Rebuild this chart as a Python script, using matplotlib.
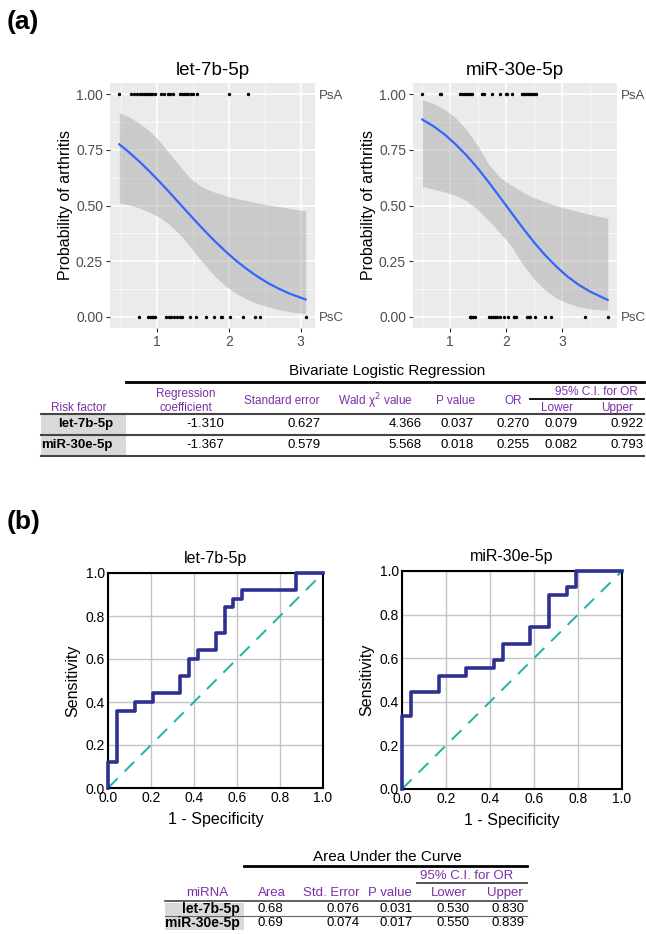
import matplotlib.pyplot as plt
from matplotlib.ticker import MultipleLocator
import numpy as np

plt.rcParams['font.family'] = ['Liberation Sans', 'DejaVu Sans']

# ---- (a) logistic regression panels ----
let7b_psa_x = [0.48, 0.64, 0.68, 0.72, 0.77, 0.80, 0.82, 0.85, 0.88, 0.91, 0.94, 0.98,
               1.06, 1.10, 1.15, 1.19, 1.22, 1.33, 1.35, 1.38, 1.41, 1.44, 1.47, 1.50,
               1.56, 2.00, 2.27]
let7b_psc_x = [0.76, 0.88, 0.91, 0.93, 0.95, 0.98, 1.13, 1.17, 1.20, 1.24, 1.28, 1.32,
               1.35, 1.46, 1.55, 1.69, 1.80, 1.89, 1.91, 2.02, 2.20, 2.36, 2.43, 3.07]
let7b_fit_x = [0.48, 0.60, 0.75, 0.90, 1.05, 1.20, 1.35, 1.50, 1.65, 1.80, 1.95, 2.10,
               2.25, 2.40, 2.55, 2.70, 2.85, 3.07]
let7b_fit_y = [0.775, 0.743, 0.700, 0.653, 0.603, 0.551, 0.497, 0.444, 0.392, 0.342,
               0.296, 0.253, 0.215, 0.181, 0.151, 0.126, 0.104, 0.078]
let7b_lo = [0.510, 0.503, 0.490, 0.470, 0.445, 0.408, 0.360, 0.300, 0.240, 0.185,
            0.140, 0.105, 0.080, 0.060, 0.045, 0.033, 0.023, 0.013]
let7b_hi = [0.916, 0.900, 0.872, 0.835, 0.785, 0.725, 0.665, 0.612, 0.580, 0.560,
            0.545, 0.532, 0.522, 0.512, 0.503, 0.495, 0.487, 0.476]

mir30e_psa_x = [0.50, 0.81, 0.84, 1.18, 1.21, 1.25, 1.29, 1.32, 1.36, 1.39, 1.57, 1.61,
                1.75, 1.90, 1.99, 2.02, 2.10, 2.29, 2.33, 2.36, 2.40, 2.43, 2.47, 2.50,
                2.53]
mir30e_psc_x = [1.35, 1.37, 1.38, 1.41, 1.44, 1.70, 1.73, 1.76, 1.80, 1.84, 1.90, 1.97,
                2.04, 2.14, 2.15, 2.17, 2.38, 2.41, 2.43, 2.51, 2.70, 2.80, 3.42, 3.82]
mir30e_fit_x = [0.50, 0.70, 0.90, 1.10, 1.30, 1.50, 1.70, 1.90, 2.10, 2.30, 2.50, 2.70,
                2.90, 3.10, 3.30, 3.50, 3.82]
mir30e_fit_y = [0.886, 0.856, 0.819, 0.774, 0.723, 0.665, 0.601, 0.534, 0.466, 0.399,
                0.335, 0.277, 0.226, 0.181, 0.144, 0.114, 0.076]
mir30e_lo = [0.585, 0.573, 0.561, 0.545, 0.520, 0.480, 0.430, 0.375, 0.315, 0.235,
             0.170, 0.120, 0.085, 0.062, 0.045, 0.036, 0.030]
mir30e_hi = [0.976, 0.958, 0.932, 0.893, 0.838, 0.765, 0.680, 0.625, 0.590, 0.560,
             0.535, 0.516, 0.500, 0.485, 0.472, 0.460, 0.443]

# ---- (b) ROC curves ----
let7b_fpr = [0, 0.042, 0.125, 0.208, 0.333, 0.375, 0.417, 0.5, 0.542, 0.583, 0.625, 0.875, 1.0]
let7b_tpr = [0, 0.12, 0.36, 0.40, 0.44, 0.52, 0.60, 0.64, 0.72, 0.84, 0.88, 0.92, 1.0]
mir30e_fpr = [0, 0.042, 0.167, 0.292, 0.417, 0.458, 0.583, 0.667, 0.75, 0.792, 1.0]
mir30e_tpr = [0, 0.333, 0.444, 0.519, 0.556, 0.593, 0.667, 0.741, 0.889, 0.926, 1.0]

# ---- tables ----
mirnas = ['let-7b-5p', 'miR-30e-5p']
logit_cols = ['Regression\ncoefficient', 'Standard error', 'Wald χ$^2$ value', 'P value', 'OR',
              'Lower', 'Upper']
logit_rows = [['-1.310', '0.627', '4.366', '0.037', '0.270', '0.079', '0.922'],
              ['-1.367', '0.579', '5.568', '0.018', '0.255', '0.082', '0.793']]
auc_cols = ['Area', 'Std. Error', 'P value', 'Lower', 'Upper']
auc_rows = [['0.68', '0.076', '0.031', '0.530', '0.830'],
            ['0.69', '0.074', '0.017', '0.550', '0.839']]

W, H = 646, 934
fig = plt.figure(figsize=(W / 100, H / 100), dpi=100)
PURPLE = '#7B2FA8'


def box(l, t, r, b):
    return [l / W, 1 - b / H, (r - l) / W, (b - t) / H]


def gg_panel(ax, title, psa, psc, fx, fy, lo, hi):
    ax.set_facecolor('#EBEBEB')
    for s in ax.spines.values():
        s.set_visible(False)
    ax.fill_between(fx, lo, hi, color='#999999', alpha=0.4, lw=0, zorder=2)
    ax.plot(fx, fy, color='#3366FF', lw=1.6, zorder=3)
    ax.scatter(psa, np.ones(len(psa)), s=6, color='black', zorder=4, lw=0)
    ax.scatter(psc, np.zeros(len(psc)), s=6, color='black', zorder=4, lw=0)
    allx = psa + psc
    pad = (max(allx) - min(allx)) * 0.05
    ax.set_xlim(min(allx) - pad, max(allx) + pad)
    ax.set_ylim(-0.05, 1.05)
    ax.xaxis.set_major_locator(MultipleLocator(1))
    ax.xaxis.set_minor_locator(MultipleLocator(0.5))
    ax.set_yticks([0, 0.25, 0.5, 0.75, 1.0])
    ax.set_yticklabels(['0.00', '0.25', '0.50', '0.75', '1.00'])
    ax.yaxis.set_minor_locator(MultipleLocator(0.125))
    ax.grid(True, which='major', color='white', lw=1.1)
    ax.grid(True, which='minor', color='white', lw=0.5)
    ax.set_axisbelow(True)
    ax.tick_params(length=3, color='#333333', labelcolor='#4D4D4D', labelsize=10, pad=2)
    ax.tick_params(which='minor', length=0)
    ax.set_title(title, fontsize=13.5, pad=6)
    ax.set_ylabel('Probability of arthritis', fontsize=11.5, labelpad=2)
    sec = ax.twinx()
    sec.set_ylim(-0.05, 1.05)
    sec.set_yticks([0, 1])
    sec.set_yticklabels(['PsC', 'PsA'])
    sec.tick_params(length=0, pad=3, labelcolor='#4D4D4D', labelsize=9.5)
    for s in sec.spines.values():
        s.set_visible(False)


def roc_panel(ax, title, fpr, tpr):
    ax.plot([0, 1], [0, 1], color='#1FB3A3', lw=1.4, ls=(0, (7, 5)), zorder=2)
    ax.plot(fpr, tpr, drawstyle='steps-pre', color='#2E3192', lw=2.6, zorder=3, clip_on=False)
    ax.set_xlim(0, 1)
    ax.set_ylim(0, 1)
    ticks = np.arange(0, 1.01, 0.2)
    ax.set_xticks(ticks)
    ax.set_yticks(ticks)
    ax.set_xticklabels(['%.1f' % t for t in ticks])
    ax.set_yticklabels(['%.1f' % t for t in ticks])
    ax.grid(True, color='#C4C4C4', lw=1)
    ax.set_axisbelow(True)
    for s in ax.spines.values():
        s.set_linewidth(1.5)
    ax.tick_params(length=0, labelsize=10, pad=2)
    ax.set_title(title, fontsize=11.5, pad=7)
    ax.set_ylabel('Sensitivity', fontsize=11.5, labelpad=4)
    ax.set_xlabel('1 - Specificity', fontsize=11.5, labelpad=5)


gg_panel(fig.add_axes(box(110, 83, 315, 328)), 'let-7b-5p', let7b_psa_x, let7b_psc_x,
         let7b_fit_x, let7b_fit_y, let7b_lo, let7b_hi)
gg_panel(fig.add_axes(box(413, 83, 617, 328)), 'miR-30e-5p', mir30e_psa_x, mir30e_psc_x,
         mir30e_fit_x, mir30e_fit_y, mir30e_lo, mir30e_hi)
roc_panel(fig.add_axes(box(108, 573, 323, 788)), 'let-7b-5p', let7b_fpr, let7b_tpr)
roc_panel(fig.add_axes(box(402, 571, 622, 789)), 'miR-30e-5p', mir30e_fpr, mir30e_tpr)

# overlay in pixel units for labels and tables
ov = fig.add_axes([0, 0, 1, 1])
ov.set_xlim(0, W)
ov.set_ylim(H, 0)
ov.axis('off')
ov.patch.set_visible(False)

ov.text(7, 22, '(a)', fontsize=19, fontweight='bold', va='center')
ov.text(7, 522, '(b)', fontsize=19, fontweight='bold', va='center')

# table 1: bivariate logistic regression
ov.text(387, 371, 'Bivariate Logistic Regression', fontsize=11, ha='center', va='center')
ov.plot([126, 644], [382, 382], color='black', lw=2)
ov.text(596, 392, '95% C.I. for OR', fontsize=8.5, color=PURPLE, ha='center', va='center')
ov.plot([530, 644], [399, 399], color='black', lw=1.3)
ov.text(79, 408, 'Risk factor', fontsize=8.5, color=PURPLE, ha='center', va='center')
hdr_x = [186, 282, 375, 455, 513, 557, 617]
hdr_y = [401, 401, 401, 401, 401, 408, 408]
for x, y, c in zip(hdr_x, hdr_y, logit_cols):
    ov.text(x, y, c, fontsize=8.5, color=PURPLE, ha='center', va='center', linespacing=1.15)
ov.plot([41, 644], [414, 414], color='#444444', lw=1.5)
val_x = [224, 321, 422, 474, 530, 578, 644]
row_y = [424, 445]
for r, (name, vals) in enumerate(zip(mirnas, logit_rows)):
    y = row_y[r]
    ov.fill_between([41, 126], y - 9.5, y + 9.5, color='#D9D9D9', lw=0)
    ov.text(113, y, name, fontsize=9.5, fontweight='bold', ha='right', va='center')
    for x, v in zip(val_x, vals):
        ov.text(x, y, v, fontsize=9.5, ha='right', va='center')
ov.plot([41, 644], [434.5, 434.5], color='#444444', lw=1.5)
ov.plot([41, 644], [455.5, 455.5], color='#444444', lw=1.5)

# table 2: area under the curve
ov.text(387, 857, 'Area Under the Curve', fontsize=11, ha='center', va='center')
ov.plot([244, 527], [866, 866], color='black', lw=2)
ov.text(467, 876, '95% C.I. for OR', fontsize=9.5, color=PURPLE, ha='center', va='center')
ov.plot([417, 527], [883, 883], color='#444444', lw=1.3)
ov.text(207, 893, 'miRNA', fontsize=9.5, color=PURPLE, ha='center', va='center')
for x, c in zip([272, 331, 390, 449, 505], auc_cols):
    ov.text(x, 893, c, fontsize=9.5, color=PURPLE, ha='center', va='center')
ov.plot([165, 527], [900.5, 900.5], color='#444444', lw=1.2)
auc_x = [283, 360, 413, 470, 525]
for r, (name, vals) in enumerate(zip(mirnas, auc_rows)):
    y = [909, 923][r]
    ov.fill_between([165, 244], y - 6.5, y + 6.5, color='#D9D9D9', lw=0)
    ov.text(240, y, name, fontsize=10, fontweight='bold', ha='right', va='center')
    for x, v in zip(auc_x, vals):
        ov.text(x, y, v, fontsize=9.5, ha='right', va='center')
ov.plot([165, 527], [916, 916], color='#666666', lw=0.8)

fig.savefig('out.png', dpi=100)
